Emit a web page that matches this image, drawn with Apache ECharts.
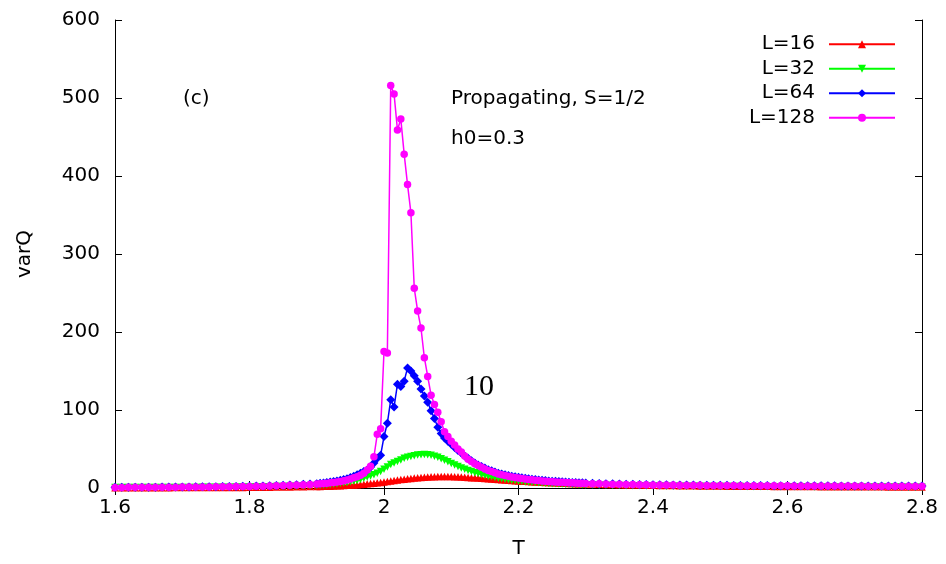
<!DOCTYPE html>
<html>
<head>
<meta charset="utf-8">
<script src="https://cdn.jsdelivr.net/npm/echarts@6/dist/echarts.min.js"></script>
<style>html,body{margin:0;padding:0;background:#fff}#c{width:946px;height:564px}</style>
</head>
<body>
<div id="c"></div>
<script>
const T = [
1.6,1.61,1.62,1.63,1.64,1.65,1.66,1.67,1.68,1.69,1.7,1.71,1.72,1.73,1.74,1.75,1.76,1.77,1.78,1.79,
1.8,1.81,1.82,1.83,1.84,1.85,1.86,1.87,1.88,1.89,
1.9,1.905,1.91,1.915,1.92,1.925,1.93,1.935,1.94,1.945,1.95,1.955,1.96,1.965,1.97,1.975,1.98,1.985,1.99,1.995,
2.0,2.005,2.01,2.015,2.02,2.025,2.03,2.035,2.04,2.045,2.05,2.055,2.06,2.065,2.07,2.075,2.08,2.085,2.09,2.095,
2.1,2.105,2.11,2.115,2.12,2.125,2.13,2.135,2.14,2.145,2.15,2.155,2.16,2.165,2.17,2.175,2.18,2.185,2.19,2.195,
2.2,2.205,2.21,2.215,2.22,2.225,2.23,2.235,2.24,2.245,2.25,2.255,2.26,2.265,2.27,2.275,2.28,2.285,2.29,2.295,
2.3,
2.31,2.32,2.33,2.34,2.35,2.36,2.37,2.38,2.39,2.4,2.41,2.42,2.43,2.44,2.45,2.46,2.47,2.48,2.49,2.5,
2.51,2.52,2.53,2.54,2.55,2.56,2.57,2.58,2.59,2.6,2.61,2.62,2.63,2.64,2.65,2.66,2.67,2.68,2.69,2.7,
2.71,2.72,2.73,2.74,2.75,2.76,2.77,2.78,2.79,2.8
];

const L16 = [
0.3,0.3,0.3,0.3,0.4,0.4,0.4,0.4,0.4,0.5, 0.5,0.5,0.5,0.6,0.6,0.6,0.7,0.7,0.8,0.8, 0.9,0.9,1.0,1.1,1.2,1.3,1.4,1.5,1.6,1.8,
1.9,2.0,2.1,2.3,2.4,2.6,2.8,3.0,3.2,3.4,3.7,3.9,4.2,4.5,4.9,5.3,5.7,6.2,6.7,7.2,
7.8,8.4,9.0,9.6,10.2,10.8,11.3,11.8,12.3,12.7,13.1,13.5,13.8,14.1,14.3,14.5,14.6,14.7,14.7,14.7,
14.6,14.5,14.3,14.1,13.9,13.6,13.3,13.0,12.7,12.4,12.1,11.8,11.5,11.2,10.9,10.6,10.3,10.0,9.7,9.4,
9.1,8.8,8.6,8.3,8.1,7.8,7.6,7.4,7.2,7.0,6.8,6.6,6.4,6.2,6.1,5.9,5.8,5.6,5.5,5.4,
5.2,
5.0,4.8,4.6,4.4,4.2,4.0,3.9,3.7,3.6,3.5, 3.3,3.2,3.1,3.0,2.9,2.8,2.7,2.6,2.6,2.5,
2.4,2.4,2.3,2.2,2.2,2.1,2.1,2.0,2.0,1.9, 1.9,1.9,1.8,1.8,1.7,1.7,1.7,1.6,1.6,1.6,
1.5,1.5,1.5,1.5,1.4,1.4,1.4,1.4,1.3,1.3
];

const L32 = [
0.5,0.5,0.5,0.6,0.6,0.6,0.6,0.7,0.7,0.7, 0.8,0.8,0.8,0.9,0.9,1.0,1.0,1.1,1.2,1.3, 1.4,1.5,1.6,1.7,1.9,2.0,2.2,2.4,2.6,2.9,
3.2,3.5,3.8,4.2,4.6,5.0,5.5,6.0,6.6,7.2,8.0,8.8,9.7,11,12.5,14,15.5,17,19,21,
24,27,30,32,34,36,38,39.5,40.5,41.5,42.2,42.7,43,42.7,42,40.8,39.3,37.5,35.5,33.5,
31.5,29.5,27.5,25.7,24,22.5,21,19.7,18.5,17.3,16.2,15.2,14.3,13.4,12.6,11.9,11.2,10.6,10.0,9.5,
9.0,8.5,8.1,7.7,7.3,7.0,6.7,6.4,6.1,5.9,5.6,5.4,5.2,5.0,4.8,4.7,4.5,4.4,4.2,4.1,
4.0,
3.8,3.6,3.4,3.3,3.1,3.0,2.9,2.8,2.7,2.6, 2.5,2.4,2.3,2.3,2.2,2.1,2.1,2.0,2.0,1.9,
1.9,1.8,1.8,1.7,1.7,1.7,1.6,1.6,1.6,1.5, 1.5,1.5,1.5,1.4,1.4,1.4,1.4,1.3,1.3,1.3,
1.3,1.3,1.2,1.2,1.2,1.2,1.2,1.1,1.1,1.1
];

const L64 = [
0.9,0.9,1.0,1.0,1.0,1.1,1.1,1.2,1.2,1.3, 1.3,1.4,1.5,1.5,1.6,1.7,1.8,1.9,2.0,2.2, 2.3,2.5,2.7,2.9,3.2,3.5,3.8,4.2,4.7,5.2,
5.6,6.0,6.5,7.0,7.6,8.2,9.0,9.9,10.9,12,13.5,15,17,19,21,23,27,32,38,42,
66,83,113,104,133,130,137,154,150,144,137,127,118,110,99,89,78,70,64,60,
56,52,48,45,41,38,35,32,29.5,27.5,25.5,23.5,22,20.5,19,18,17,16,15.2,14.4,
13.7,13,12.4,11.8,11.3,10.8,10.3,9.9,9.5,9.1,8.8,8.5,8.2,7.9,7.6,7.4,7.2,7.0,6.8,6.6,
6.4,
6.1,5.8,5.5,5.3,5.1,4.9,4.7,4.6,4.4,4.3, 4.2,4.1,4.0,3.9,3.8,3.7,3.6,3.6,3.5,3.4,
3.4,3.3,3.3,3.2,3.2,3.1,3.1,3.0,3.0,3.0, 2.9,2.9,2.9,2.8,2.8,2.8,2.8,2.7,2.7,2.7,
2.7,2.6,2.6,2.6,2.6,2.6,2.5,2.5,2.5,2.5
];

const L128 = [
0.8,0.8,0.9,0.9,0.9,1.0,1.0,1.0,1.1,1.1, 1.2,1.2,1.3,1.3,1.4,1.5,1.6,1.7,1.8,1.9, 2.0,2.2,2.4,2.6,2.8,3.1,3.4,3.8,4.2,4.6,
5.0,5.3,5.7,6.1,6.6,7.1,7.7,8.4,9.2,10.2,11.5,13,14.5,16.5,19,23,28,40,69,76,
175,173,516,505,459,473,428,389,353,256,227,205,167,143,119,107,97,85,72,66,
60,55,50,46,41,37,34,31,29,26.5,24.5,22.5,21,19.5,18,17,16,15,14.2,13.5,
12.8,12.2,11.6,11,10.5,10,9.5,9.1,8.7,8.4,8.1,7.8,7.5,7.3,7.0,6.8,6.6,6.4,6.2,6.0,
5.9,
5.6,5.3,5.1,4.9,4.7,4.5,4.4,4.2,4.1,4.0, 3.9,3.8,3.7,3.6,3.5,3.4,3.4,3.3,3.2,3.2,
3.1,3.1,3.0,3.0,2.9,2.9,2.9,2.8,2.8,2.8, 2.7,2.7,2.7,2.6,2.6,2.6,2.6,2.5,2.5,2.5,
2.5,2.4,2.4,2.4,2.4,2.4,2.3,2.3,2.3,2.3
];

const seriesNames = ['L=16', 'L=32', 'L=64', 'L=128'];
const xTicks = [1.6, 1.8, 2.0, 2.2, 2.4, 2.6, 2.8];
const yTicks = [0, 100, 200, 300, 400, 500, 600];

const pairs = arr => T.map((t, i) => [t, arr[i]]);
const FONT = 'DejaVu Sans';
const FS = 20;

const chart = echarts.init(document.getElementById('c'), null, {renderer: 'canvas'});
const axisCommon = {
  type: 'value',
  axisLine: {show: true, lineStyle: {color: '#000', width: 1}},
  axisTick: {show: true, inside: true, length: 7, lineStyle: {color: '#000'}},
  splitLine: {show: false}
};
const mk = (name, data, color, symbol, size, rotate) => ({
  name, type: 'line', data: pairs(data), color,
  symbol, symbolSize: size, symbolRotate: rotate || 0,
  showSymbol: true,
  lineStyle: {color, width: 1.5},
  itemStyle: {color},
  animation: false
});
chart.setOption({
  animation: false,
  backgroundColor: '#fff',
  grid: {left: 115, right: 24, top: 20, bottom: 74},
  xAxis: [
    Object.assign({}, axisCommon, {
      min: xTicks[0], max: xTicks[xTicks.length - 1], interval: 0.2,
      name: 'T', nameLocation: 'middle', nameGap: 51,
      nameTextStyle: {fontFamily: FONT, fontSize: FS, color: '#000'},
      axisLabel: {fontFamily: FONT, fontSize: FS, color: '#000', margin: 10,
        formatter: v => String(parseFloat(v.toFixed(1)))}
    }),
    Object.assign({}, axisCommon, {
      position: 'top', min: xTicks[0], max: xTicks[xTicks.length - 1], interval: 0.2,
      axisLabel: {show: false}
    })
  ],
  yAxis: [
    Object.assign({}, axisCommon, {
      min: yTicks[0], max: yTicks[yTicks.length - 1], interval: 100,
      name: 'varQ', nameLocation: 'middle', nameGap: 80,
      nameTextStyle: {fontFamily: FONT, fontSize: FS, color: '#000'},
      axisLabel: {fontFamily: FONT, fontSize: FS, color: '#000', margin: 15}
    }),
    Object.assign({}, axisCommon, {
      position: 'right', min: yTicks[0], max: yTicks[yTicks.length - 1], interval: 100,
      axisLabel: {show: false}
    })
  ],
  legend: {
    orient: 'vertical', right: 45, top: 29,
    itemWidth: 66, itemHeight: 10, itemGap: 4, align: 'right',
    textStyle: {fontFamily: FONT, fontSize: FS, color: '#000', width: 80, align: 'right', lineHeight: 20.5, padding: [0, 9, 0, 0]},
    data: seriesNames
  },
  graphic: [
    {type: 'text', x: 183, y: 99, style: {text: '(c)', font: FS + 'px "DejaVu Sans"', fill: '#000', verticalAlign: 'middle'}},
    {type: 'text', x: 451, y: 99, style: {text: 'Propagating, S=1/2', font: FS + 'px "DejaVu Sans"', fill: '#000', verticalAlign: 'middle'}},
    {type: 'text', x: 451, y: 139, style: {text: 'h0=0.3', font: FS + 'px "DejaVu Sans"', fill: '#000', verticalAlign: 'middle'}},
    {type: 'text', x: 464, y: 387, style: {text: '10', font: '30px "Liberation Serif"', fill: '#000', verticalAlign: 'middle'}}
  ],
  series: [
    mk(seriesNames[0], L16, '#ff0000', 'triangle', 7.5),
    mk(seriesNames[1], L32, '#00ff00', 'triangle', 7.5, 180),
    mk(seriesNames[2], L64, '#0000ff', 'diamond', 9),
    mk(seriesNames[3], L128, '#ff00ff', 'circle', 7.5)
  ]
});
</script>
</body>
</html>
